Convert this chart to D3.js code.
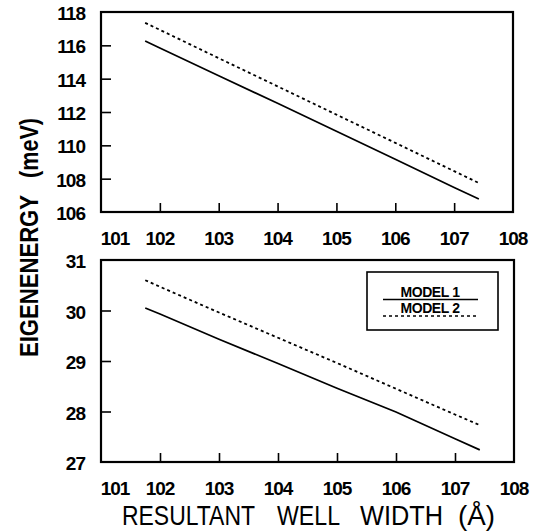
<!DOCTYPE html>
<html>
<head>
<meta charset="utf-8">
<script src="https://cdn.jsdelivr.net/npm/d3@7"></script>
<style>
  html, body { margin: 0; padding: 0; background: #fff; }
  svg { display: block; }
  text { font-family: "Liberation Sans", Arial, sans-serif; fill: #000; }
</style>
</head>
<body>
<svg id="chart" width="535" height="531"></svg>
<script>
// ---- data ----
const widths = [101.75, 102, 103, 104, 105, 106, 107, 107.42];
const topModel1 = [116.26, 115.84, 114.18, 112.52, 110.84, 109.16, 107.47, 106.78];
const topModel2 = [117.35, 116.93, 115.23, 113.54, 111.84, 110.15, 108.45, 107.74];
const botWidths = [101.75, 102, 103, 104, 105, 106, 107, 107.42];
const botModel1 = [30.05, 29.93, 29.43, 28.95, 28.46, 27.99, 27.46, 27.24];
const botModel2 = [30.60, 30.47, 29.96, 29.46, 28.96, 28.45, 27.94, 27.73];
const xTicks = [101, 102, 103, 104, 105, 106, 107, 108];
const topYTicks = [106, 108, 110, 112, 114, 116, 118];
const botYTicks = [27, 28, 29, 30, 31];
const seriesNames = ["MODEL 1", "MODEL 2"];
const xTitleWords = ["RESULTANT", "WELL", "WIDTH", "(Å)"];
const yTitleWords = ["EIGENENERGY", "(meV)"];

const svg = d3.select("#chart");

function panel(cfg) {
  const g = svg.append("g");
  const x = d3.scaleLinear().domain([101, 108]).range([cfg.left, cfg.right]);
  const y = d3.scaleLinear().domain(cfg.yDomain).range([cfg.bottom, cfg.top]);

  g.append("rect")
    .attr("x", cfg.left).attr("y", cfg.top)
    .attr("width", cfg.right - cfg.left).attr("height", cfg.bottom - cfg.top)
    .attr("fill", "none").attr("stroke", "#000").attr("stroke-width", 2.2);

  const xAxis = d3.axisTop(x).tickValues(xTicks.filter(d => d > 101 && d < 108))
    .tickSize(9).tickFormat("");
  const xa = g.append("g").attr("transform", `translate(0,${cfg.bottom})`).call(xAxis);
  xa.select(".domain").remove();
  xa.selectAll("line").attr("stroke-width", 1.6);

  const yAxis = d3.axisRight(y).tickValues(cfg.yTicks.filter((d,i,a) => i > 0 && i < a.length - 1))
    .tickSize(10).tickFormat("");
  const ya = g.append("g").attr("transform", `translate(${cfg.left},0)`).call(yAxis);
  ya.select(".domain").remove();
  ya.selectAll("line").attr("stroke-width", 1.6);

  g.selectAll(".xl").data(xTicks).enter().append("text")
    .attr("x", d => x(d) + (d === 101 ? 14 : 0))
    .attr("y", cfg.bottom + 33)
    .attr("text-anchor", "middle")
    .attr("font-size", 19).attr("font-weight", "bold").attr("letter-spacing", -1)
    .text(d => d);

  g.selectAll(".yl").data(cfg.yTicks).enter().append("text")
    .attr("x", cfg.left - 16)
    .attr("y", d => y(d) + 8)
    .attr("text-anchor", "end")
    .attr("font-size", 19).attr("font-weight", "bold").attr("letter-spacing", -1)
    .text(d => d);

  const line = d3.line().x(d => x(d[0])).y(d => y(d[1]));
  g.append("path").datum(cfg.xs.map((v, i) => [v, cfg.s1[i]]))
    .attr("d", line).attr("fill", "none").attr("stroke", "#000").attr("stroke-width", 1.7);
  g.append("path").datum(cfg.xs.map((v, i) => [v, cfg.s2[i]]))
    .attr("d", line).attr("fill", "none").attr("stroke", "#000").attr("stroke-width", 1.8)
    .attr("stroke-dasharray", "3,3");
  return {g, x, y};
}

panel({left: 101, right: 513, top: 12, bottom: 212, yDomain: [106, 118],
  yTicks: topYTicks, xs: widths, s1: topModel1, s2: topModel2});
panel({left: 101, right: 514, top: 260, bottom: 462, yDomain: [27, 31],
  yTicks: botYTicks, xs: botWidths, s1: botModel1, s2: botModel2});

// legend
const lg = svg.append("g");
lg.append("rect").attr("x", 367).attr("y", 272).attr("width", 131).attr("height", 58)
  .attr("fill", "#fff").attr("stroke", "#000").attr("stroke-width", 1.6);
lg.append("text").attr("x", 430).attr("y", 297).attr("text-anchor", "middle")
  .attr("font-size", 14).attr("font-weight", "bold").attr("letter-spacing", -0.4)
  .text(seriesNames[0]);
lg.append("line").attr("x1", 383).attr("x2", 478).attr("y1", 299.5).attr("y2", 299.5)
  .attr("stroke", "#000").attr("stroke-width", 1.6);
lg.append("text").attr("x", 430).attr("y", 313).attr("text-anchor", "middle")
  .attr("font-size", 14).attr("font-weight", "bold").attr("letter-spacing", -0.4)
  .text(seriesNames[1]);
lg.append("line").attr("x1", 383).attr("x2", 478).attr("y1", 316).attr("y2", 316)
  .attr("stroke", "#000").attr("stroke-width", 1.6).attr("stroke-dasharray", "3,3");

// x axis title: words placed individually
const xWordPos = [[122, 133], [277, 63], [360, 83], [458, 37]];
svg.selectAll(".xt").data(xTitleWords).enter().append("text")
  .attr("x", (d, i) => xWordPos[i][0]).attr("y", 525)
  .attr("font-size", 27)
  .attr("textLength", (d, i) => xWordPos[i][1]).attr("lengthAdjust", "spacingAndGlyphs")
  .text(d => d);

// y axis title
const yWordPos = [[357, 162], [178, 60]];
svg.selectAll(".yt").data(yTitleWords).enter().append("text")
  .attr("transform", (d, i) => `translate(38,${yWordPos[i][0]}) rotate(-90)`)
  .attr("font-size", 25).attr("font-weight", "bold")
  .attr("textLength", (d, i) => yWordPos[i][1]).attr("lengthAdjust", "spacingAndGlyphs")
  .text(d => d);
</script>
</body>
</html>
